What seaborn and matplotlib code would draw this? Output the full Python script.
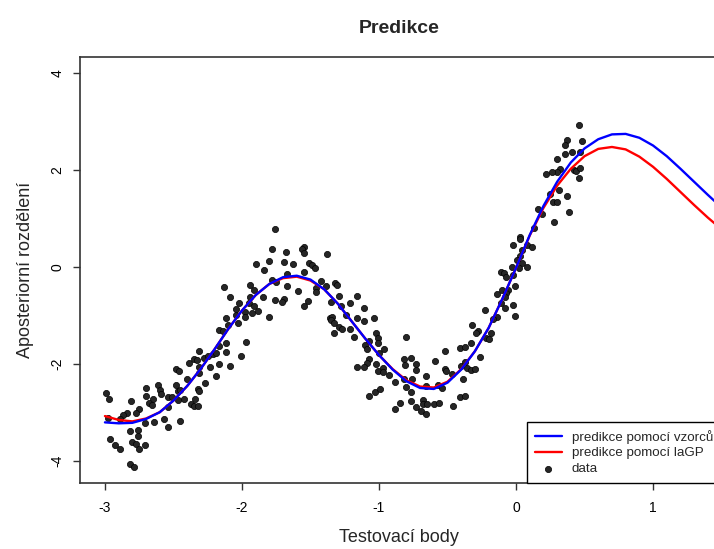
import numpy as np
import pandas as pd
import seaborn as sns
import matplotlib
matplotlib.use("Agg")
import matplotlib.pyplot as plt

# mrizka testovacich bodu a obe predikce
x_grid = [-3.0, -2.9, -2.8, -2.7, -2.6, -2.5, -2.4, -2.3, -2.2, -2.1, -2.0, -1.9,
          -1.8, -1.7, -1.6, -1.5, -1.4, -1.3, -1.2, -1.1, -1.0, -0.9, -0.8, -0.7,
          -0.6, -0.5, -0.4, -0.3, -0.2, -0.1, 0.0, 0.1, 0.2, 0.3, 0.4, 0.5, 0.6,
          0.7, 0.8, 0.9, 1.0, 1.1, 1.2, 1.3, 1.4, 1.5]
pred_vzorce = [-3.21, -3.23, -3.22, -3.14, -3.00, -2.76, -2.46, -2.10, -1.70, -1.28,
               -0.90, -0.58, -0.35, -0.21, -0.18, -0.26, -0.46, -0.76, -1.12, -1.48,
               -1.82, -2.12, -2.36, -2.50, -2.52, -2.39, -2.12, -1.74, -1.26, -0.66,
               -0.02, 0.66, 1.26, 1.76, 2.16, 2.45, 2.64, 2.74, 2.75, 2.67, 2.51,
               2.29, 2.03, 1.76, 1.49, 1.23]
pred_lagp = [-3.08, -3.16, -3.19, -3.13, -3.00, -2.76, -2.46, -2.10, -1.70, -1.28,
             -0.90, -0.58, -0.35, -0.23, -0.20, -0.28, -0.46, -0.76, -1.12, -1.48,
             -1.82, -2.11, -2.34, -2.47, -2.49, -2.37, -2.11, -1.74, -1.26, -0.66,
             -0.02, 0.65, 1.22, 1.68, 2.03, 2.29, 2.44, 2.48, 2.43, 2.28, 2.07,
             1.82, 1.55, 1.28, 1.02, 0.78]

# namerena data
data_x = [-2.17, -2.99, -2.97, -2.81, -2.70, -2.70, -2.61, -2.60, -2.59, -2.65, -2.68,
          -2.66, -2.75, -2.77, -2.84, -2.87, -2.89, -2.98, -2.71, -2.64, -2.57, -2.54,
          -2.45, -2.54, -2.54, -2.51, -2.48, -2.47, -2.45, -2.42, -2.47, -2.48, -2.46,
          -2.40, -2.39, -2.35, -2.33, -2.31, -2.28, -2.25, -2.21, -2.19, -2.17, -2.23,
          -2.31, -2.31, -2.19, -2.27, -2.32, -2.31, -2.34, -2.37, -2.35, -2.32, -2.82,
          -2.76, -2.76, -2.96, -2.80, -2.77, -2.71, -2.93, -2.89, -2.75, -2.82, -2.79,
          -1.76, -1.78, -1.68, -1.55, -1.56, -1.55, -1.38, -1.90, -1.80, -1.69, -1.63,
          -1.84, -1.51, -1.49, -1.47, -1.55, -1.67, -1.78, -1.75, -1.67, -1.94, -1.91,
          -2.13, -2.09, -2.02, -1.94, -1.95, -1.85, -1.91, -1.88, -1.93, -2.04, -1.98,
          -1.98, -2.04, -2.12, -2.03, -2.10, -2.14, -1.80, -1.76, -1.69, -1.71, -1.59,
          -1.52, -1.55, -1.46, -1.46, -1.42, -1.39, -1.36, -1.34, -1.35, -1.33, -1.33,
          -1.97, -2.12, -2.17, -2.12, -2.01, -2.09,
          -1.32, -1.31, -1.29, -1.16, -1.35, -1.28, -1.21, -1.11, -1.24, -1.16, -1.11,
          -1.04, -1.29, -1.27, -1.21, -1.18, -1.02, -1.01, -1.07, -1.01, -1.10, -0.96,
          -1.09, -1.00, -1.07, -1.09, -1.02, -1.16, -1.11, -0.97, -1.01, -0.97, -0.93,
          -0.88, -0.80, -0.82, -0.77, -0.73, -0.73, -0.81, -0.59, -0.52, -0.52, -0.51,
          -0.66, -0.82, -0.76, -0.80, -0.77, -0.66, -0.57, -0.54, -1.07, -1.03, -0.99,
          -0.85, -0.88, -0.77, -0.73, -0.68, -0.68, -0.65, -0.60, -0.56, -0.69, -0.66,
          -0.46,
          0.46, 0.37, 0.36, 0.48, 0.30, 0.36, 0.41, 0.47, 0.32, 0.30, 0.26, 0.22, 0.42,
          0.44, 0.47, 0.46, 0.31, 0.25, 0.27, 0.30, 0.37, 0.39, 0.16, 0.19, 0.28, 0.13,
          0.03, 0.03, -0.02, 0.08, 0.12, 0.04, 0.03, 0.01, 0.04, -0.03, 0.02, 0.08,
          -0.11, -0.09, -0.02, -0.07, -0.01, -0.14, -0.10, -0.06, -0.07, -0.08, -0.11,
          -0.08, -0.02, -0.01, -0.14, -0.17, -0.23, -0.28, -0.29, -0.32, -0.18, -0.22,
          -0.20, -0.33, -0.41, -0.37, -0.26, -0.40, -0.37, -0.36, -0.33, -0.30, -0.47,
          -0.39, -0.41, -0.37]
data_y = [-1.30, -2.61, -2.72, -2.76, -2.51, -2.67, -2.44, -2.54, -2.63, -2.73, -2.82,
          -2.85, -2.93, -3.02, -3.02, -3.06, -3.15, -3.11, -3.23, -3.20, -3.14, -3.30,
          -3.18, -2.89, -2.68, -2.69, -2.44, -2.56, -2.54, -2.73, -2.75, -2.11, -2.14,
          -2.32, -1.99, -1.90, -1.92, -1.74, -1.88, -1.84, -1.80, -1.77, -2.00, -2.07,
          -2.07, -2.18, -2.25, -2.40, -2.53, -2.57, -2.72, -2.83, -2.87, -2.87, -3.39,
          -3.37, -3.49, -3.55, -3.61, -3.66, -3.67, -3.67, -3.77, -3.77, -4.07, -4.13,
          0.79, 0.37, 0.32, 0.42, 0.37, 0.28, 0.26, 0.06, 0.13, 0.10, 0.06,
          -0.06, 0.09, 0.04, -0.03, -0.10, -0.14, -0.27, -0.32, -0.39, -0.37, -0.48,
          -0.41, -0.63, -0.75, -0.63, -0.74, -0.63, -0.81, -0.90, -0.96, -0.87, -0.94,
          -1.03, -0.99, -1.06, -1.16, -1.20, -1.32, -1.04, -0.68, -0.66, -0.73, -0.50,
          -0.70, -0.81, -0.44, -0.51, -0.29, -0.39, -1.06, -1.04, -1.10, -1.16, -1.37,
          -1.54, -1.56, -1.63, -1.75, -1.83, -2.05,
          -0.34, -0.37, -0.60, -0.60, -0.72, -0.81, -0.75, -0.84, -0.99, -1.06, -1.12,
          -1.06, -1.25, -1.28, -1.29, -1.44, -1.37, -1.46, -1.52, -1.58, -1.61, -1.70,
          -1.70, -1.78, -1.91, -1.99, -2.00, -2.06, -2.07, -2.09, -2.14, -2.16, -2.23,
          -2.37, -1.44, -1.91, -1.89, -2.01, -2.13, -2.02, -1.94, -1.73, -2.11, -2.15,
          -2.25, -2.32, -2.32, -2.47, -2.58, -2.46, -2.44, -2.49, -2.66, -2.58, -2.52,
          -2.82, -2.93, -2.77, -2.89, -2.75, -2.84, -2.84, -2.84, -2.82, -2.98, -3.04,
          -2.87,
          2.93, 2.62, 2.52, 2.61, 2.23, 2.33, 2.37, 2.37, 2.02, 1.96, 1.96, 1.92, 2.00,
          1.98, 2.04, 1.83, 1.59, 1.51, 1.35, 1.34, 1.47, 1.14, 1.19, 1.10, 0.94, 0.80,
          0.61, 0.57, 0.45, 0.45, 0.42, 0.35, 0.23, 0.14, 0.09, 0.01, -0.03, 0.01,
          -0.10, -0.13, -0.17, -0.20, -0.39, -0.56, -0.48, -0.48, -0.54, -0.61, -0.75,
          -0.85, -0.79, -1.01, -1.03, -1.08, -0.89, -1.32, -1.36, -1.20, -1.37, -1.46,
          -1.49, -1.56, -1.68, -1.66, -1.85, -2.05, -1.96, -2.08, -2.13, -2.11, -2.21,
          -2.31, -2.69, -2.67]

preds = pd.DataFrame({"x": x_grid, "vzorce": pred_vzorce, "lagp": pred_lagp})
data = pd.DataFrame({"x": data_x, "y": data_y})

sns.set_style("white")
plt.rcParams["font.family"] = ["Liberation Sans", "DejaVu Sans"]
plt.rcParams["axes.unicode_minus"] = False

fig = plt.figure(figsize=(7.14, 5.49), dpi=100)
ax = fig.add_axes([80 / 714, 1 - 483 / 549, 638 / 714, 426 / 549])

sns.scatterplot(data=data, x="x", y="y", ax=ax, s=20, color="#262626",
                edgecolor="black", linewidth=0.5, label="data", zorder=2)
sns.lineplot(data=preds, x="x", y="lagp", ax=ax, color="#ff0000", linewidth=1.7,
             label="predikce pomocí laGP", zorder=3)
sns.lineplot(data=preds, x="x", y="vzorce", ax=ax, color="#0000ff", linewidth=1.7,
             label="predikce pomocí vzorců", zorder=4)

ax.set_xlim(-3.182, 1.474)
ax.set_ylim(-4.463, 4.339)
ax.set_xticks([-3, -2, -1, 0, 1])
ax.set_yticks([-4, -2, 0, 2, 4])
ax.tick_params(direction="out", length=5, width=1, colors="#333333",
               labelcolor="black", labelsize=10, pad=8)
ax.tick_params(axis="y", pad=6)
ax.tick_params(axis="x", bottom=True)
ax.tick_params(axis="y", left=True)
for lab in ax.get_yticklabels():
    lab.set_rotation(90)
    lab.set_va("center")
for sp in ax.spines.values():
    sp.set_color("#333333")
    sp.set_linewidth(1.2)

ax.set_title("Predikce", fontsize=14, fontweight="bold", pad=17)
ax.set_xlabel("Testovací body", fontsize=13, labelpad=10)
ax.set_ylabel("Aposteriorní rozdělení", fontsize=13, labelpad=12)

h, l = ax.get_legend_handles_labels()
order = [l.index("predikce pomocí vzorců"), l.index("predikce pomocí laGP"), l.index("data")]
leg = ax.legend([h[i] for i in order], [l[i] for i in order],
                loc="lower left", bbox_to_anchor=(527 / 714, 1 - 483 / 549),
                bbox_transform=fig.transFigure, fontsize=9.6, frameon=True,
                fancybox=False, framealpha=1, edgecolor="black", borderpad=0.6,
                labelspacing=0.25, handlelength=2.0, handletextpad=0.75,
                borderaxespad=0)
leg.get_frame().set_linewidth(1)

plt.savefig("out.png", dpi=100)
